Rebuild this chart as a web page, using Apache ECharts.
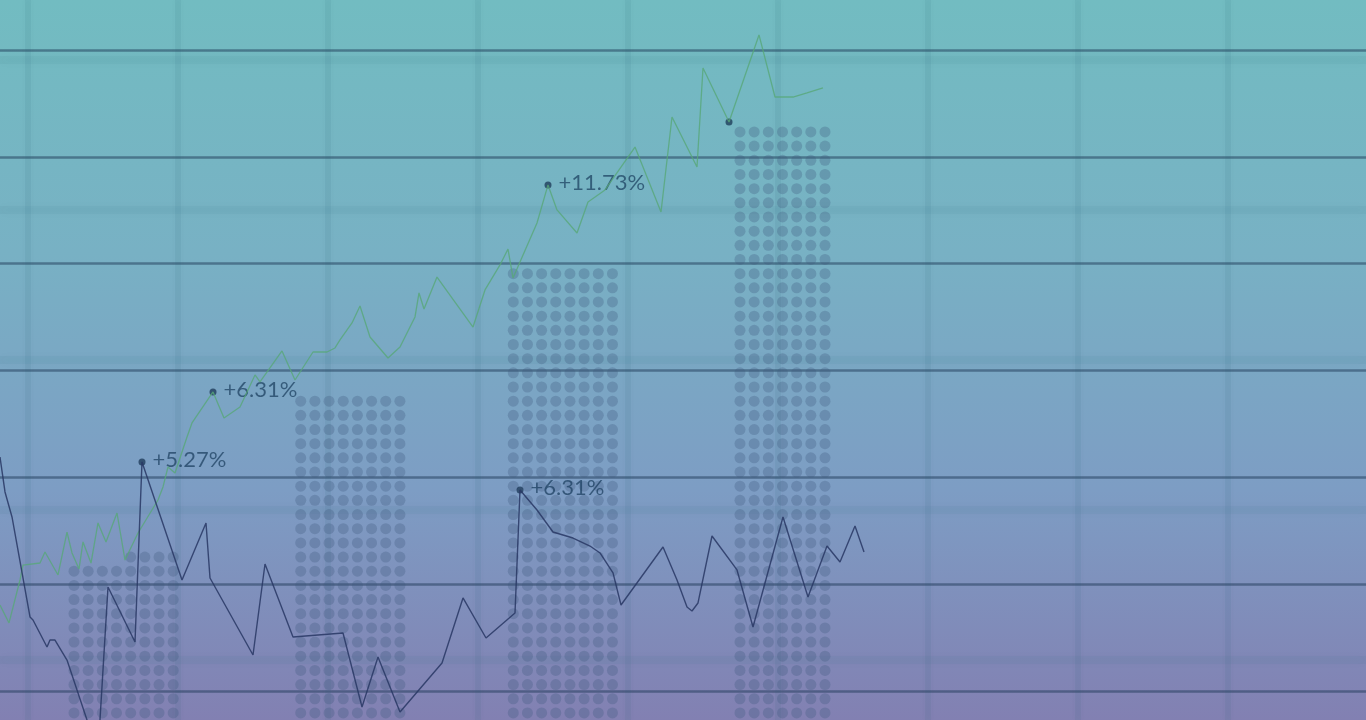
<!DOCTYPE html>
<html>
<head>
<meta charset="utf-8">
<style>
  html, body { margin: 0; padding: 0; width: 1366px; height: 720px; overflow: hidden; background: #79a8c4; }
  #chart { width: 1366px; height: 720px; }
</style>
<script src="https://cdn.jsdelivr.net/npm/echarts@6/dist/echarts.min.js"></script>
</head>
<body>
<div id="chart"></div>
<script>
// ---------- DATA ----------
// Dotted columns: number of dot rows in each column slot ('-' = empty slot)
const dotColumnRows = [
  11, 11, 11, 11, 12, 12, 12, 12,
  '-', '-', '-', '-', '-', '-', '-', '-',
  23, 23, 23, 23, 23, 23, 23, 23,
  '-', '-', '-', '-', '-', '-', '-',
  32, 32, 32, 32, 32, 32, 32, 32,
  '-', '-', '-', '-', '-', '-', '-', '-',
  42, 42, 42, 42, 42, 42, 42
];

// Green (upper) line
const greenX = [0, 0.9, 2.0, 2.3, 4.0, 4.5, 5.8, 6.7, 7.2, 7.9, 8.3, 9.1, 9.8, 10.6, 11.7, 12.5, 13.8, 15.8, 16.3, 16.8, 17.5, 18.7, 19.2, 21.3, 22.4, 24.0, 25.5, 26.0, 28.2, 29.5, 31.3, 32.7, 33.5, 34.0, 35.2, 36.0, 37.0, 38.8, 40.0, 41.5, 41.9, 42.4, 43.7, 47.3, 48.5, 50.0, 50.8, 51.3, 53.7, 54.8, 55.7, 57.7, 58.8, 60.5, 63.5, 66.1, 67.2, 69.7, 70.3, 72.9, 75.9, 77.5, 79.3, 80.7, 82.3];
const greenY = [8.05, 6.37, 10.39, 11.79, 11.98, 13.01, 10.86, 14.88, 12.92, 11.42, 13.95, 11.98, 15.73, 13.95, 16.66, 12.26, 14.79, 17.88, 19.10, 20.97, 20.41, 23.78, 25.09, 27.99, 25.56, 26.59, 29.58, 28.93, 31.83, 29.11, 31.73, 31.73, 32.11, 32.86, 34.45, 36.04, 33.14, 31.17, 32.20, 35.01, 37.26, 35.76, 38.75, 34.07, 37.54, 39.88, 41.37, 38.66, 43.81, 47.37, 45.03, 42.87, 45.78, 46.90, 50.92, 44.84, 53.73, 49.05, 58.32, 53.26, 61.41, 55.60, 55.60, 55.98, 56.45];

// Navy (lower) line
const navyX = [0, 0.5, 1.2, 3.0, 3.3, 4.7, 5.0, 5.5, 6.7, 8.7, 9.8, 10.8, 13.5, 14.2, 18.2, 20.6, 21.0, 25.3, 26.5, 29.3, 34.3, 36.2, 37.8, 40.0, 44.2, 46.3, 48.6, 51.5, 52.0, 53.7, 55.3, 57.3, 59.0, 60.0, 61.3, 62.1, 66.3, 67.7, 68.7, 69.2, 69.8, 71.2, 73.7, 75.3, 78.3, 80.8, 82.7, 84.0, 85.5, 86.4];
const navyY = [21.90, 18.63, 16.29, 6.93, 6.65, 4.12, 4.77, 4.77, 2.90, -2.71, -5.80, 9.74, 4.59, 21.44, 10.39, 15.73, 10.58, 3.37, 11.89, 5.05, 5.43, -1.50, 3.18, -1.97, 2.62, 8.71, 4.96, 7.30, 18.82, 16.94, 14.88, 14.32, 13.57, 12.92, 11.05, 8.05, 13.48, 10.39, 7.86, 7.49, 8.24, 14.51, 11.33, 5.99, 16.29, 8.80, 13.57, 12.08, 15.45, 13.01];

// Highlighted points and their labels
const markX = [14.2, 21.3, 54.8, 72.9, 52.0];
const markY = [21.44, 27.99, 47.37, 53.26, 18.82];
const markLabels = ['+5.27%', '+6.31%', '+11.73%', '', '+6.31%'];

// ---------- CHART ----------
const zip = (xs, ys) => xs.map((x, i) => [x, ys[i]]);
const hidden = { show: false };

const chart = echarts.init(document.getElementById('chart'), null, { renderer: 'canvas' });
chart.setOption({
  animation: false,
  backgroundColor: {
    type: 'linear', x: 0, y: 0, x2: 0, y2: 1,
    colorStops: [
      { offset: 0, color: '#72bcc1' },
      { offset: 0.35, color: '#78b1c4' },
      { offset: 0.68, color: '#7d9dc4' },
      { offset: 1, color: '#8280b2' }
    ]
  },
  grid: [
    { left: 28, right: 138, top: 0, bottom: 0 },          // soft vertical lattice
    { left: 0, right: 0, top: 60, bottom: 60 },           // soft horizontal lattice
    { left: 66.915, width: 765.18, top: 11.5, bottom: 0 },// dotted columns
    { left: 0, right: 0, top: 50, bottom: 29 }            // lines + sharp rules
  ],
  xAxis: [
    { gridIndex: 0, type: 'value', min: 0, max: 8, interval: 1,
      axisLine: hidden, axisTick: hidden, axisLabel: hidden,
      splitLine: { show: true, lineStyle: { color: 'rgba(40,95,120,0.075)', width: 6, shadowBlur: 6, shadowColor: 'rgba(40,95,120,0.35)' } } },
    { gridIndex: 1, type: 'value', min: 0, max: 1, show: false, splitLine: hidden },
    { gridIndex: 2, type: 'category', show: false, boundaryGap: true },
    { gridIndex: 3, type: 'value', min: 0, max: 136.6, show: false, splitLine: hidden }
  ],
  yAxis: [
    { gridIndex: 0, type: 'value', min: 0, max: 1, show: false, splitLine: hidden },
    { gridIndex: 1, type: 'value', min: 0, max: 4, interval: 1,
      axisLine: hidden, axisTick: hidden, axisLabel: hidden,
      splitLine: { show: true, lineStyle: { color: 'rgba(40,95,120,0.06)', width: 8, shadowBlur: 8, shadowColor: 'rgba(40,95,120,0.3)' } } },
    { gridIndex: 2, type: 'value', min: 0, max: 50, show: false, splitLine: hidden },
    { gridIndex: 3, type: 'value', min: 0, max: 60, interval: 10,
      axisLine: hidden, axisTick: hidden, axisLabel: hidden,
      splitLine: { show: true, lineStyle: { color: 'rgba(30,55,85,0.5)', width: 2.5 } } }
  ],
  series: [
    {
      type: 'pictorialBar', xAxisIndex: 2, yAxisIndex: 2,
      data: dotColumnRows,
      symbol: 'circle', symbolSize: 11,
      symbolRepeat: true, symbolMargin: '1.585!',
      barCategoryGap: '0%',
      itemStyle: { color: 'rgba(64,88,125,0.3)' },
      silent: true
    },
    {
      type: 'line', xAxisIndex: 3, yAxisIndex: 3,
      data: zip(greenX, greenY),
      showSymbol: false, clip: false, smooth: false,
      lineStyle: { color: 'rgba(88,168,120,0.8)', width: 1.3 }
    },
    {
      type: 'line', xAxisIndex: 3, yAxisIndex: 3,
      data: zip(navyX, navyY),
      showSymbol: false, clip: false, smooth: false,
      lineStyle: { color: 'rgba(40,55,100,0.85)', width: 1.4 }
    },
    {
      type: 'scatter', xAxisIndex: 3, yAxisIndex: 3,
      data: markX.map((x, i) => [x, markY[i], markLabels[i]]),
      symbolSize: 7, clip: false,
      itemStyle: { color: 'rgba(22,50,80,0.9)' },
      label: {
        show: true, position: 'right', distance: 7, offset: [0, -2],
        formatter: p => p.data[2],
        fontFamily: 'Lato', fontSize: 22, color: 'rgba(20,55,88,0.85)'
      }
    }
  ]
});
</script>
</body>
</html>
